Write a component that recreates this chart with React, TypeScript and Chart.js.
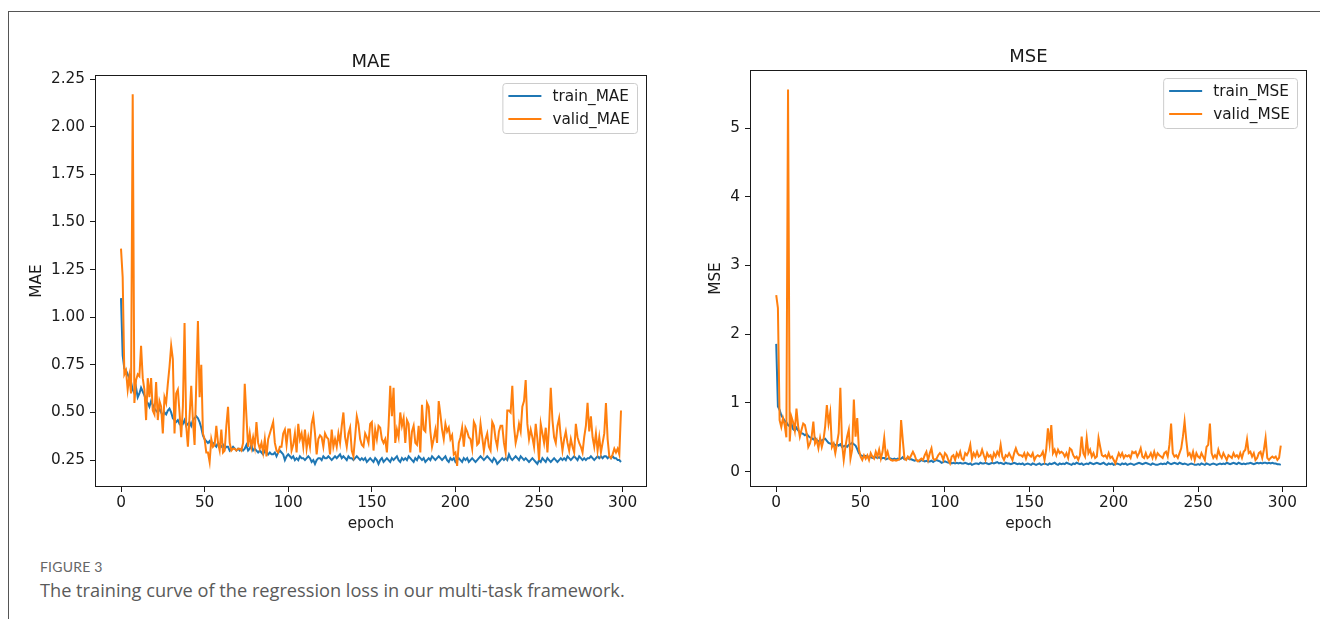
import React, { useEffect, useRef } from "react";
import { Chart, registerables } from "chart.js";

Chart.register(...registerables);

const FONT = "'DejaVu Sans', sans-serif";
const TEXT_COLOR = "#1a1a1a";
const TRAIN_COLOR = "#1f77b4";
const VALID_COLOR = "#ff7f0e";

// epoch index 0..299
const epochs = Array.from({ length: 300 }, (_, i) => i);
const xTickValues = [0, 50, 100, 150, 200, 250, 300];
const maeTickValues = [0.25, 0.5, 0.75, 1.0, 1.25, 1.5, 1.75, 2.0, 2.25];
const mseTickValues = [0, 1, 2, 3, 4, 5];

const trainMAE = [
  1.10, 0.80, 0.73, 0.72, 0.70, 0.68, 0.66, 0.62, 0.60, 0.63,
  0.58, 0.60, 0.63, 0.61, 0.59, 0.56, 0.55, 0.53, 0.56, 0.54,
  0.52, 0.51, 0.50, 0.52, 0.50, 0.48, 0.50, 0.49, 0.51, 0.52,
  0.50, 0.47, 0.46, 0.45, 0.46, 0.44, 0.45, 0.44, 0.46, 0.43,
  0.44, 0.45, 0.43, 0.46, 0.47, 0.48, 0.47, 0.45, 0.42, 0.38,
  0.36, 0.35, 0.34, 0.35, 0.33, 0.34, 0.33, 0.32, 0.34, 0.33,
  0.32, 0.33, 0.31, 0.32, 0.32, 0.30, 0.31, 0.32, 0.31, 0.30,
  0.31, 0.30, 0.31, 0.30, 0.31, 0.33, 0.30, 0.31, 0.33, 0.30,
  0.31, 0.30, 0.29, 0.30, 0.29, 0.28, 0.30, 0.29, 0.28, 0.29,
  0.28, 0.28, 0.29, 0.27, 0.29, 0.30, 0.29, 0.28, 0.25, 0.27,
  0.28, 0.27, 0.26, 0.27, 0.25, 0.26, 0.25, 0.27, 0.26, 0.26,
  0.25, 0.26, 0.27, 0.26, 0.24, 0.25, 0.23, 0.25, 0.26, 0.26,
  0.25, 0.27, 0.26, 0.26, 0.27, 0.26, 0.25, 0.26, 0.27, 0.26,
  0.27, 0.28, 0.26, 0.27, 0.26, 0.25, 0.27, 0.26, 0.26, 0.25,
  0.26, 0.27, 0.26, 0.25, 0.26, 0.25, 0.26, 0.24, 0.25, 0.26,
  0.25, 0.24, 0.26, 0.25, 0.23, 0.25, 0.26, 0.24, 0.25, 0.26,
  0.25, 0.24, 0.26, 0.25, 0.26, 0.27, 0.25, 0.24, 0.26, 0.25,
  0.26, 0.25, 0.27, 0.26, 0.25, 0.24, 0.26, 0.25, 0.27, 0.26,
  0.25, 0.26, 0.24, 0.25, 0.26, 0.25, 0.27, 0.26, 0.25, 0.26,
  0.27, 0.26, 0.25, 0.26, 0.27, 0.25, 0.24, 0.26, 0.25, 0.26,
  0.24, 0.25, 0.26, 0.25, 0.24, 0.26, 0.25, 0.26, 0.24, 0.25,
  0.26, 0.25, 0.24, 0.25, 0.26, 0.27, 0.26, 0.25, 0.26, 0.27,
  0.26, 0.25, 0.24, 0.26, 0.25, 0.23, 0.24, 0.25, 0.26, 0.25,
  0.26, 0.25, 0.28, 0.26, 0.25, 0.26, 0.27, 0.26, 0.25, 0.27,
  0.26, 0.25, 0.26, 0.25, 0.24, 0.25, 0.26, 0.25, 0.24, 0.23,
  0.25, 0.24, 0.26, 0.25, 0.24, 0.26, 0.25, 0.24, 0.25, 0.26,
  0.25, 0.24, 0.25, 0.26, 0.25, 0.26, 0.25, 0.27, 0.26, 0.25,
  0.26, 0.27, 0.26, 0.25, 0.27, 0.26, 0.25, 0.26, 0.25, 0.26,
  0.26, 0.27, 0.26, 0.25, 0.26, 0.27, 0.26, 0.27, 0.26, 0.27,
  0.27, 0.26, 0.27, 0.26, 0.27, 0.26, 0.26, 0.25, 0.25, 0.24,
];

const validMAE = [
  1.36, 1.21, 0.70, 0.72, 0.62, 0.69, 0.60, 2.17, 0.55, 0.67,
  0.70, 0.69, 0.85, 0.68, 0.62, 0.46, 0.68, 0.58, 0.68, 0.51,
  0.49, 0.66, 0.46, 0.56, 0.53, 0.39, 0.58, 0.55, 0.65, 0.74,
  0.85, 0.78, 0.39, 0.60, 0.62, 0.50, 0.37, 0.53, 0.97, 0.43,
  0.32, 0.48, 0.64, 0.46, 0.33, 0.65, 0.98, 0.58, 0.75, 0.39,
  0.36, 0.29, 0.29, 0.24, 0.36, 0.32, 0.33, 0.43, 0.34, 0.30,
  0.41, 0.29, 0.30, 0.43, 0.53, 0.34, 0.30, 0.31, 0.31, 0.30,
  0.31, 0.31, 0.30, 0.34, 0.65, 0.48, 0.32, 0.39, 0.32, 0.37,
  0.32, 0.45, 0.34, 0.31, 0.34, 0.29, 0.36, 0.27, 0.36, 0.39,
  0.42, 0.45, 0.34, 0.30, 0.29, 0.32, 0.32, 0.39, 0.41, 0.33,
  0.41, 0.41, 0.30, 0.33, 0.39, 0.29, 0.44, 0.36, 0.39, 0.32,
  0.41, 0.31, 0.37, 0.32, 0.44, 0.48, 0.39, 0.28, 0.36, 0.38,
  0.37, 0.32, 0.39, 0.37, 0.36, 0.28, 0.41, 0.32, 0.36, 0.32,
  0.39, 0.34, 0.43, 0.50, 0.37, 0.32, 0.39, 0.42, 0.30, 0.27,
  0.37, 0.48, 0.44, 0.36, 0.33, 0.32, 0.39, 0.37, 0.34, 0.44,
  0.45, 0.30, 0.41, 0.36, 0.43, 0.42, 0.36, 0.34, 0.36, 0.29,
  0.43, 0.64, 0.48, 0.63, 0.34, 0.41, 0.37, 0.50, 0.43, 0.47,
  0.34, 0.46, 0.44, 0.29, 0.40, 0.43, 0.34, 0.33, 0.43, 0.29,
  0.54, 0.41, 0.40, 0.55, 0.53, 0.40, 0.32, 0.36, 0.41, 0.34,
  0.56, 0.49, 0.41, 0.36, 0.44, 0.40, 0.42, 0.36, 0.38, 0.28,
  0.29, 0.22, 0.34, 0.37, 0.42, 0.32, 0.42, 0.40, 0.37, 0.36,
  0.31, 0.45, 0.43, 0.33, 0.34, 0.44, 0.37, 0.30, 0.36, 0.39,
  0.32, 0.30, 0.45, 0.43, 0.36, 0.32, 0.40, 0.43, 0.43, 0.34,
  0.29, 0.51, 0.51, 0.50, 0.64, 0.43, 0.34, 0.38, 0.44, 0.40,
  0.53, 0.56, 0.67, 0.44, 0.36, 0.41, 0.37, 0.32, 0.44, 0.36,
  0.25, 0.44, 0.39, 0.34, 0.42, 0.29, 0.43, 0.63, 0.46, 0.37,
  0.34, 0.43, 0.47, 0.37, 0.30, 0.36, 0.40, 0.34, 0.30, 0.36,
  0.32, 0.29, 0.44, 0.37, 0.34, 0.32, 0.29, 0.37, 0.43, 0.55,
  0.40, 0.48, 0.37, 0.32, 0.39, 0.30, 0.37, 0.29, 0.34, 0.39,
  0.55, 0.36, 0.27, 0.26, 0.28, 0.31, 0.29, 0.31, 0.28, 0.51,
];

const trainMSE = [
  1.86, 0.95, 0.90, 0.82, 0.78, 0.74, 0.72, 0.68, 0.66, 0.70,
  0.62, 0.60, 0.64, 0.60, 0.57, 0.56, 0.55, 0.53, 0.55, 0.52,
  0.50, 0.49, 0.47, 0.49, 0.46, 0.44, 0.46, 0.45, 0.47, 0.48,
  0.45, 0.42, 0.41, 0.40, 0.41, 0.38, 0.40, 0.38, 0.40, 0.36,
  0.37, 0.38, 0.36, 0.39, 0.40, 0.42, 0.40, 0.38, 0.33, 0.27,
  0.24, 0.23, 0.22, 0.23, 0.21, 0.22, 0.21, 0.20, 0.22, 0.21,
  0.20, 0.21, 0.19, 0.20, 0.20, 0.18, 0.19, 0.20, 0.19, 0.18,
  0.19, 0.18, 0.19, 0.18, 0.19, 0.21, 0.18, 0.19, 0.20, 0.18,
  0.18, 0.17, 0.16, 0.17, 0.16, 0.15, 0.17, 0.16, 0.15, 0.16,
  0.15, 0.15, 0.16, 0.14, 0.16, 0.17, 0.16, 0.15, 0.13, 0.14,
  0.15, 0.14, 0.13, 0.14, 0.12, 0.13, 0.12, 0.13, 0.12, 0.13,
  0.12, 0.12, 0.13, 0.12, 0.11, 0.12, 0.10, 0.11, 0.12, 0.12,
  0.11, 0.13, 0.12, 0.12, 0.13, 0.12, 0.11, 0.12, 0.13, 0.12,
  0.13, 0.14, 0.12, 0.13, 0.12, 0.11, 0.13, 0.12, 0.12, 0.11,
  0.12, 0.13, 0.12, 0.11, 0.12, 0.11, 0.12, 0.10, 0.11, 0.12,
  0.11, 0.10, 0.12, 0.11, 0.10, 0.11, 0.12, 0.10, 0.11, 0.12,
  0.11, 0.10, 0.12, 0.11, 0.12, 0.13, 0.11, 0.10, 0.12, 0.11,
  0.12, 0.11, 0.13, 0.12, 0.11, 0.10, 0.12, 0.11, 0.13, 0.12,
  0.11, 0.12, 0.10, 0.11, 0.12, 0.11, 0.13, 0.12, 0.11, 0.12,
  0.13, 0.12, 0.11, 0.12, 0.13, 0.11, 0.10, 0.12, 0.11, 0.12,
  0.10, 0.11, 0.12, 0.11, 0.10, 0.12, 0.11, 0.12, 0.10, 0.11,
  0.12, 0.11, 0.10, 0.11, 0.12, 0.13, 0.12, 0.11, 0.12, 0.13,
  0.12, 0.11, 0.10, 0.12, 0.11, 0.10, 0.10, 0.11, 0.12, 0.11,
  0.12, 0.11, 0.14, 0.12, 0.11, 0.12, 0.13, 0.12, 0.11, 0.13,
  0.12, 0.11, 0.12, 0.11, 0.10, 0.11, 0.12, 0.11, 0.10, 0.10,
  0.11, 0.10, 0.12, 0.11, 0.10, 0.12, 0.11, 0.10, 0.11, 0.12,
  0.11, 0.10, 0.11, 0.12, 0.11, 0.12, 0.11, 0.13, 0.12, 0.11,
  0.12, 0.13, 0.12, 0.11, 0.13, 0.12, 0.11, 0.12, 0.11, 0.12,
  0.12, 0.13, 0.12, 0.11, 0.12, 0.13, 0.12, 0.13, 0.12, 0.13,
  0.13, 0.12, 0.13, 0.12, 0.13, 0.12, 0.12, 0.11, 0.11, 0.10,
];

const validMSE = [
  2.57, 2.38, 0.75, 0.65, 0.78, 0.68, 0.50, 5.56, 0.44, 0.80,
  0.72, 0.60, 0.92, 0.66, 0.51, 0.61, 0.70, 0.68, 0.56, 0.36,
  0.41, 0.51, 0.73, 0.41, 0.46, 0.34, 0.49, 0.36, 0.46, 0.66,
  0.97, 0.70, 0.86, 0.36, 0.41, 0.27, 0.41, 0.56, 1.22, 0.41,
  0.17, 0.36, 0.51, 0.61, 0.19, 0.32, 1.05, 0.51, 0.78, 0.32,
  0.22, 0.17, 0.24, 0.19, 0.24, 0.17, 0.27, 0.22, 0.19, 0.29,
  0.22, 0.32, 0.19, 0.29, 0.49, 0.22, 0.29, 0.19, 0.17, 0.16,
  0.17, 0.16, 0.17, 0.18, 0.75, 0.46, 0.19, 0.17, 0.22, 0.19,
  0.24, 0.29, 0.24, 0.17, 0.15, 0.17, 0.19, 0.17, 0.24, 0.29,
  0.17, 0.27, 0.34, 0.19, 0.17, 0.19, 0.24, 0.27, 0.24, 0.17,
  0.27, 0.24, 0.17, 0.12, 0.22, 0.24, 0.17, 0.27, 0.22, 0.29,
  0.19, 0.17, 0.27, 0.24, 0.29, 0.39, 0.19, 0.27, 0.22, 0.29,
  0.22, 0.24, 0.32, 0.24, 0.17, 0.27, 0.22, 0.24, 0.17, 0.27,
  0.22, 0.29, 0.24, 0.39, 0.22, 0.17, 0.24, 0.22, 0.27, 0.22,
  0.17, 0.27, 0.34, 0.27, 0.24, 0.24, 0.22, 0.27, 0.19, 0.27,
  0.24, 0.22, 0.27, 0.17, 0.22, 0.24, 0.22, 0.24, 0.29, 0.17,
  0.32, 0.63, 0.41, 0.68, 0.27, 0.32, 0.24, 0.32, 0.27, 0.29,
  0.27, 0.22, 0.27, 0.20, 0.34, 0.32, 0.24, 0.20, 0.22, 0.17,
  0.24, 0.51, 0.27, 0.22, 0.49, 0.27, 0.32, 0.22, 0.27, 0.20,
  0.22, 0.49, 0.36, 0.24, 0.22, 0.24, 0.20, 0.27, 0.20, 0.22,
  0.17, 0.12, 0.20, 0.27, 0.22, 0.27, 0.20, 0.24, 0.22, 0.24,
  0.20, 0.29, 0.27, 0.29, 0.22, 0.27, 0.34, 0.22, 0.20, 0.27,
  0.20, 0.22, 0.27, 0.20, 0.29, 0.20, 0.27, 0.24, 0.22, 0.20,
  0.27, 0.29, 0.22, 0.39, 0.70, 0.27, 0.22, 0.24, 0.20, 0.27,
  0.34, 0.51, 0.73, 0.46, 0.24, 0.27, 0.20, 0.29, 0.17, 0.27,
  0.22, 0.20, 0.27, 0.22, 0.17, 0.36, 0.39, 0.70, 0.27, 0.20,
  0.24, 0.20, 0.32, 0.24, 0.20, 0.27, 0.22, 0.17, 0.24, 0.22,
  0.20, 0.27, 0.22, 0.24, 0.20, 0.27, 0.20, 0.29, 0.32, 0.47,
  0.27, 0.29, 0.22, 0.27, 0.17, 0.20, 0.27, 0.29, 0.20, 0.32,
  0.49, 0.20, 0.17, 0.20, 0.22, 0.20, 0.22, 0.17, 0.20, 0.38,
];

type PanelCfg = {
  title: string;
  yLabel: string;
  trainName: string;
  validName: string;
  train: number[];
  valid: number[];
  yTicks: number[];
  decimals: number;
  yMin: number;
  yMax: number;
  area: { left: number; top: number; right: number; bottom: number };
  yTitlePad: number;
  canvasLeft: number;
};

const CW = 660;
const CH = 545;
const X_AXIS_H = 50;

const panels: PanelCfg[] = [
  {
    title: "MAE",
    yLabel: "MAE",
    trainName: "train_MAE",
    validName: "valid_MAE",
    train: trainMAE,
    valid: validMAE,
    yTicks: maeTickValues,
    decimals: 2,
    yMin: 0.114,
    yMax: 2.266,
    area: { left: 96, top: 76, right: 646, bottom: 486 },
    yTitlePad: 28,
    canvasLeft: 0,
  },
  {
    title: "MSE",
    yLabel: "MSE",
    trainName: "train_MSE",
    validName: "valid_MSE",
    train: trainMSE,
    valid: validMSE,
    yTicks: mseTickValues,
    decimals: 0,
    yMin: -0.208,
    yMax: 5.83,
    area: { left: 91, top: 71, right: 646, bottom: 486 },
    yTitlePad: 47,
    canvasLeft: 660,
  },
];

function makeDecor(cfg: PanelCfg) {
  return {
    id: "decor",
    afterDatasetsDraw(chart: any) {
      const { ctx, chartArea: a } = chart;
      ctx.save();
      // spines
      ctx.strokeStyle = TEXT_COLOR;
      ctx.lineWidth = 1;
      ctx.strokeRect(
        Math.round(a.left) - 0.5,
        Math.round(a.top) - 0.5,
        Math.round(a.right - a.left) + 1,
        Math.round(a.bottom - a.top) + 1
      );
      // title
      ctx.fillStyle = TEXT_COLOR;
      ctx.font = `18px ${FONT}`;
      ctx.textAlign = "center";
      ctx.textBaseline = "alphabetic";
      ctx.fillText(cfg.title, (a.left + a.right) / 2, a.top - 9);
      // legend
      ctx.font = `15.3px ${FONT}`;
      const names = [cfg.trainName, cfg.validName];
      const colors = [TRAIN_COLOR, VALID_COLOR];
      const tw = Math.max(...names.map((n) => ctx.measureText(n).width));
      const boxRight = a.right - 9;
      const boxW = tw + 57;
      const boxLeft = boxRight - boxW;
      const boxTop = a.top + 7;
      const boxH = 50;
      ctx.beginPath();
      (ctx as any).roundRect(boxLeft + 0.5, boxTop + 0.5, boxW, boxH, 3);
      ctx.fillStyle = "rgba(255,255,255,0.8)";
      ctx.fill();
      ctx.strokeStyle = "#cccccc";
      ctx.lineWidth = 1;
      ctx.stroke();
      names.forEach((n, i) => {
        const y = boxTop + 13 + i * 23;
        ctx.beginPath();
        ctx.strokeStyle = colors[i];
        ctx.lineWidth = 2;
        ctx.moveTo(boxLeft + 6, y);
        ctx.lineTo(boxLeft + 39, y);
        ctx.stroke();
        ctx.fillStyle = TEXT_COLOR;
        ctx.textAlign = "left";
        ctx.textBaseline = "middle";
        ctx.fillText(n, boxLeft + 50, y + 1);
      });
      ctx.restore();
    },
  };
}

function LossPanel({ cfg }: { cfg: PanelCfg }) {
  const ref = useRef<HTMLCanvasElement | null>(null);
  useEffect(() => {
    if (!ref.current) return;
    const gridOpts = {
      display: true,
      drawOnChartArea: false,
      drawTicks: true,
      tickLength: 6,
      tickColor: TEXT_COLOR,
      color: TEXT_COLOR,
      lineWidth: 1,
    };
    const tickFont = { family: FONT, size: 15.3 };
    const chart = new Chart(ref.current, {
      type: "line",
      data: {
        datasets: [
          {
            label: cfg.trainName,
            data: epochs.map((e, i) => ({ x: e, y: cfg.train[i] })),
            borderColor: TRAIN_COLOR,
            backgroundColor: TRAIN_COLOR,
            borderWidth: 2,
            pointRadius: 0,
            tension: 0,
            order: 1,
          },
          {
            label: cfg.validName,
            data: epochs.map((e, i) => ({ x: e, y: cfg.valid[i] })),
            borderColor: VALID_COLOR,
            backgroundColor: VALID_COLOR,
            borderWidth: 2,
            pointRadius: 0,
            tension: 0,
            order: 0,
          },
        ],
      },
      options: {
        responsive: false,
        animation: false,
        devicePixelRatio: 1,
        layout: {
          padding: {
            left: 0,
            top: cfg.area.top,
            right: CW - cfg.area.right,
            bottom: CH - cfg.area.bottom - X_AXIS_H,
          },
        },
        plugins: {
          legend: { display: false },
          title: { display: false },
          tooltip: { enabled: false },
        },
        scales: {
          x: {
            type: "linear",
            min: -14.95,
            max: 313.95,
            grid: gridOpts,
            border: { display: false },
            ticks: {
              font: tickFont,
              color: TEXT_COLOR,
              padding: 2,
              maxRotation: 0,
              autoSkip: false,
              callback: (v: any) => String(v),
            },
            afterBuildTicks: (s: any) => {
              s.ticks = xTickValues.map((v) => ({ value: v }));
            },
            afterFit: (s: any) => {
              s.height = X_AXIS_H;
            },
            title: {
              display: true,
              text: "epoch",
              font: { family: FONT, size: 15.3 },
              color: TEXT_COLOR,
              padding: { top: 0, bottom: 3 },
            },
          },
          y: {
            type: "linear",
            min: cfg.yMin,
            max: cfg.yMax,
            grid: gridOpts,
            border: { display: false },
            ticks: {
              font: tickFont,
              color: TEXT_COLOR,
              padding: 5,
              autoSkip: false,
              callback: (v: any) => Number(v).toFixed(cfg.decimals),
            },
            afterBuildTicks: (s: any) => {
              s.ticks = cfg.yTicks.map((v) => ({ value: v }));
            },
            afterFit: (s: any) => {
              s.width = cfg.area.left;
            },
            title: {
              display: true,
              text: cfg.yLabel,
              font: { family: FONT, size: 15.3 },
              color: TEXT_COLOR,
              padding: { top: cfg.yTitlePad, bottom: 0 },
            },
          },
        },
      },
      plugins: [makeDecor(cfg)],
    } as any);
    return () => chart.destroy();
  }, [cfg]);
  return (
    <canvas
      ref={ref}
      width={CW}
      height={CH}
      style={{ position: "absolute", left: cfg.canvasLeft, top: 0, width: CW, height: CH }}
    />
  );
}

export default function App() {
  return (
    <div
      style={{
        position: "absolute",
        left: 0,
        top: 0,
        width: 1320,
        height: 619,
        background: "#ffffff",
        overflow: "hidden",
      }}
    >
      <div
        style={{
          position: "absolute",
          left: 8,
          top: 11,
          width: 1320,
          height: 620,
          borderTop: "1px solid #555",
          borderLeft: "1px solid #555",
        }}
      />
      {panels.map((p) => (
        <LossPanel key={p.title} cfg={p} />
      ))}
      <div
        style={{
          position: "absolute",
          left: 40,
          top: 559,
          fontFamily: "Lato, 'Open Sans', sans-serif",
          fontSize: 14,
          lineHeight: "16px",
          color: "#666",
          letterSpacing: 0.2,
        }}
      >
        FIGURE 3
      </div>
      <div
        style={{
          position: "absolute",
          left: 40,
          top: 579,
          fontFamily: "'Open Sans', Lato, sans-serif",
          fontSize: 18.2,
          lineHeight: "22px",
          color: "#5a5a5a",
          whiteSpace: "nowrap",
        }}
      >
        The training curve of the regression loss in our multi-task framework.
      </div>
    </div>
  );
}
